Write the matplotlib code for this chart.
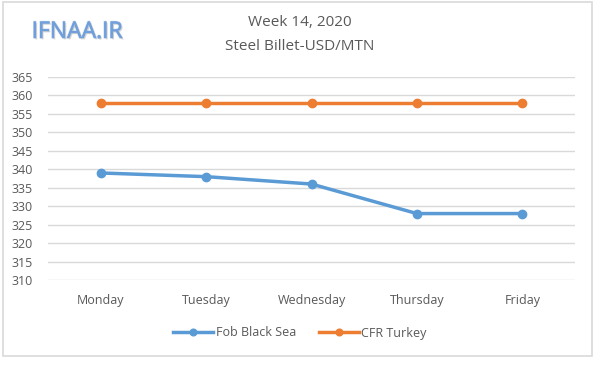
import matplotlib.pyplot as plt
import matplotlib.patheffects as pe
from matplotlib.patches import Rectangle

days = ["Monday", "Tuesday", "Wednesday", "Thursday", "Friday"]
fob_black_sea = [339, 338, 336, 328, 328]
cfr_turkey = [358, 358, 358, 358, 358]
y_ticks = list(range(310, 366, 5))

BLUE = "#5b9bd5"
ORANGE = "#ed7d31"
TXT = "#595959"

plt.rcParams["font.family"] = ["Open Sans", "DejaVu Sans"]

fig = plt.figure(figsize=(6, 3.8), dpi=100)
fig.patches.append(Rectangle((3 / 600, 1 - 356 / 380), 589 / 600, 354 / 380,
                             transform=fig.transFigure, fill=False,
                             edgecolor="#d9d9d9", linewidth=1.2))

ax = fig.add_axes([48 / 600, 1 - 280 / 380, 527 / 600, 203 / 380])
x = range(len(days))
ax.plot(x, fob_black_sea, color=BLUE, linewidth=2.5, marker="o", markersize=6,
        label="Fob Black Sea")
ax.plot(x, cfr_turkey, color=ORANGE, linewidth=2.5, marker="o", markersize=6,
        label="CFR Turkey")

ax.set_xlim(-0.5, len(days) - 0.5)
ax.set_ylim(310, 365)
ax.set_yticks(y_ticks)
ax.set_xticks(list(x))
ax.set_xticklabels(days)
ax.tick_params(axis="both", length=0, labelsize=9, colors=TXT)
ax.tick_params(axis="x", pad=10)
ax.tick_params(axis="y", pad=11)
ax.grid(axis="y", color="#d9d9d9", linewidth=1)
ax.set_axisbelow(True)
for s in ax.spines.values():
    s.set_visible(False)

fig.text(0.5, 1 - 22 / 380, "Week 14, 2020", ha="center", va="center",
         fontsize=11, color=TXT)
fig.text(0.5, 1 - 46 / 380, "Steel Billet-USD/MTN", ha="center", va="center",
         fontsize=11, color=TXT)
fig.text(77 / 600, 1 - 32 / 380, "IFNAA.IR", ha="center", va="center",
         fontsize=16.5, color="#6f9fdc",
         path_effects=[pe.withStroke(linewidth=1.2, foreground="#c9d8ee"),
                       pe.withSimplePatchShadow(offset=(1, -1),
                                                shadow_rgbFace="#b0b0b0", alpha=0.5),
                       pe.Normal()])

leg = fig.legend(loc="center", bbox_to_anchor=(0.5, 1 - 333 / 380), ncol=2,
                 frameon=False, fontsize=9, labelcolor=TXT, handlelength=3.2,
                 handletextpad=0.2, columnspacing=1.8, markerscale=0.8)

fig.savefig("out.png", dpi=100)
